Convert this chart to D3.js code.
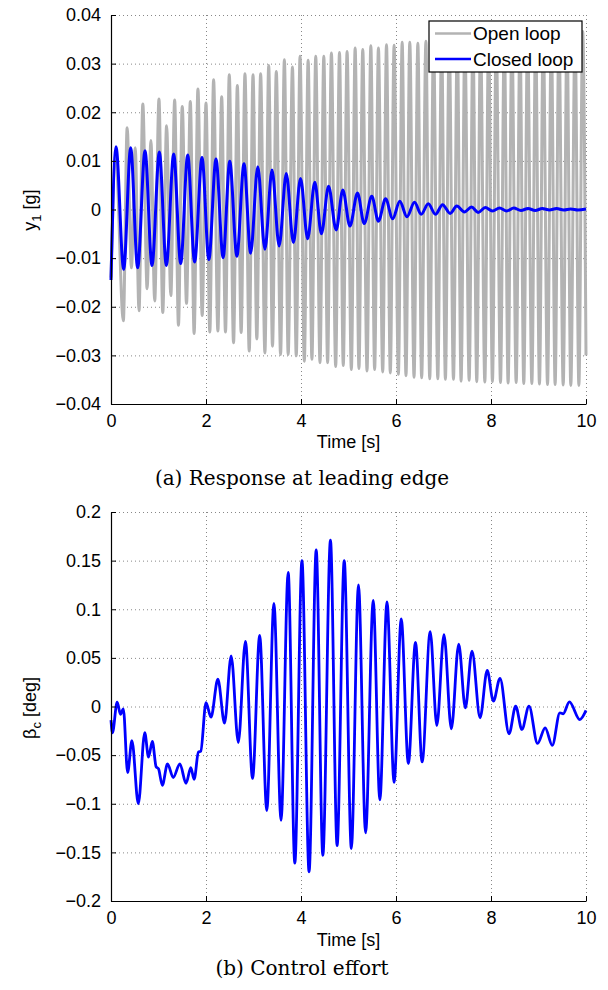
<!DOCTYPE html>
<head>
    <meta charset="utf-8">
    <script src="https://d3js.org/d3.v7.min.js"></script>
    <style>
        body { margin:0; background:#fff; }
        text { font-family: "Liberation Sans", Arial, Helvetica, sans-serif; }
        .caption { font-family: "DejaVu Serif", "Liberation Serif", serif; }
    </style>
</head>
<body>
<script>
    // ---- data ----
    var xTicks = [0, 2, 4, 6, 8, 10];
    var xTickLabels = ["0", "2", "4", "6", "8", "10"];

    var yTicksTop = [-0.04, -0.03, -0.02, -0.01, 0, 0.01, 0.02, 0.03, 0.04];
    var yTickLabelsTop = ["\u22120.04", "\u22120.03", "\u22120.02", "\u22120.01", "0", "0.01", "0.02", "0.03", "0.04"];

    var yTicksBot = [-0.2, -0.15, -0.1, -0.05, 0, 0.05, 0.1, 0.15, 0.2];
    var yTickLabelsBot = ["\u22120.2", "\u22120.15", "\u22120.1", "\u22120.05", "0", "0.05", "0.1", "0.15", "0.2"];

    // open loop y1 [g]: start, then alternating troughs / peaks
    var openLoop = [[0, -0.014], [0.10, 0.011],
        [0.26, -0.0229], [0.34, 0.0168], [0.43, -0.0120], [0.51, 0.0127], [0.59, -0.0208], [0.67, 0.0217],
        [0.76, -0.0163], [0.84, 0.0142], [0.92, -0.0188], [1.01, 0.0227], [1.09, -0.0212], [1.17, 0.0172],
        [1.26, -0.0177], [1.34, 0.0225], [1.42, -0.0238], [1.50, 0.0212], [1.59, -0.0193], [1.67, 0.0222],
        [1.75, -0.0255], [1.83, 0.0248], [1.92, -0.0218], [2.00, 0.0219], [2.08, -0.0252], [2.16, 0.0267],
        [2.25, -0.0250], [2.33, 0.0232], [2.41, -0.0252], [2.49, 0.0277], [2.58, -0.0274], [2.66, 0.0255],
        [2.74, -0.0253], [2.82, 0.0279], [2.91, -0.0291], [2.99, 0.0277], [3.07, -0.0266], [3.15, 0.0279],
        [3.24, -0.0295], [3.32, 0.0296], [3.40, -0.0281], [3.48, 0.0284], [3.57, -0.0298], [3.65, 0.0308],
        [3.73, -0.0298], [3.82, 0.0293], [3.90, -0.0301], [3.98, 0.0315], [4.07, -0.0312], [4.15, 0.0307],
        [4.23, -0.0308], [4.31, 0.0315], [4.40, -0.0315], [4.48, 0.0315], [4.56, -0.0315], [4.64, 0.0322],
        [4.73, -0.0323], [4.81, 0.0323], [4.89, -0.0321], [4.97, 0.0325], [5.06, -0.0329], [5.14, 0.0332],
        [5.22, -0.0327], [5.30, 0.0329], [5.39, -0.0332], [5.47, 0.0337], [5.55, -0.0329], [5.63, 0.0332],
        [5.72, -0.0334], [5.80, 0.0339], [5.88, -0.0336], [5.96, 0.0338], [6.05, -0.0339], [6.13, 0.0344],
        [6.21, -0.0342], [6.29, 0.0344], [6.38, -0.0345], [6.46, 0.0342], [6.54, -0.0346], [6.63, 0.0346],
        [6.71, -0.0348], [6.79, 0.0347], [6.88, -0.0348], [6.96, 0.0349], [7.04, -0.0349], [7.12, 0.0348],
        [7.21, -0.0349], [7.29, 0.0351], [7.37, -0.0353], [7.45, 0.0352], [7.54, -0.0351], [7.62, 0.0351],
        [7.70, -0.0354], [7.78, 0.0354], [7.87, -0.0355], [7.95, 0.0355], [8.03, -0.0354], [8.11, 0.0355],
        [8.20, -0.0356], [8.28, 0.0357], [8.36, -0.0357], [8.44, 0.0358], [8.53, -0.0356], [8.61, 0.0357],
        [8.69, -0.0358], [8.77, 0.0360], [8.86, -0.0358], [8.94, 0.0361], [9.02, -0.0359], [9.10, 0.0361],
        [9.19, -0.0360], [9.27, 0.0363], [9.35, -0.0360], [9.43, 0.0364], [9.52, -0.0361], [9.60, 0.0364],
        [9.68, -0.0362], [9.77, 0.0365], [9.85, -0.0362], [9.93, 0.0366], [10.0, -0.030]];

    // closed loop y1 [g]
    var closedLoop = [[0, -0.0145], [0.105, 0.0129], [0.267, -0.0123], [0.414, 0.0127], [0.561, -0.0120],
        [0.716, 0.0121], [0.863, -0.0115], [1.018, 0.0118], [1.165, -0.0115], [1.32, 0.0114], [1.467, -0.0111],
        [1.615, 0.0112], [1.76, -0.0108], [1.916, 0.0107], [2.06, -0.0103], [2.21, 0.0104], [2.36, -0.0099],
        [2.50, 0.0099], [2.65, -0.0096], [2.80, 0.0094], [2.94, -0.0090], [3.09, 0.0088], [3.24, -0.0082],
        [3.39, 0.0081], [3.54, -0.0075], [3.69, 0.0074], [3.84, -0.0068], [3.99, 0.0064], [4.14, -0.0060],
        [4.29, 0.0056], [4.43, -0.0050], [4.58, 0.0048], [4.74, -0.0042], [4.88, 0.0040], [5.03, -0.0034],
        [5.19, 0.0034], [5.33, -0.0029], [5.49, 0.0027], [5.63, -0.0024], [5.78, 0.0022], [5.93, -0.0019],
        [6.08, 0.0017], [6.23, -0.0015], [6.39, 0.0015], [6.53, -0.0010], [6.68, 0.0012], [6.83, -0.0010],
        [6.98, 0.0010], [7.14, -0.0008], [7.28, 0.0007], [7.44, -0.0005], [7.59, 0.0005], [7.73, -0.0006],
        [7.88, 0.0004], [8.03, -0.0003], [8.18, 0.0003], [8.33, -0.0003], [8.48, 0.0003], [8.63, -0.0002],
        [8.78, 0.0002], [8.93, -0.0002], [9.08, 0.0002], [9.23, -0.0001], [9.38, 0.0002], [9.53, -0.0001],
        [9.68, 0.0001], [9.83, -0.0001], [10.0, 0.0001]];

    // control effort beta_c [deg]
    var control = [[0, -0.014], [0.03, -0.027], [0.13, 0.0045], [0.20, -0.008], [0.26, -0.0024], [0.35, -0.068],
        [0.44, -0.035], [0.575, -0.100], [0.71, -0.027], [0.79, -0.052], [0.87, -0.036], [0.95, -0.062],
        [1.00, -0.064], [1.08, -0.081], [1.19, -0.059], [1.31, -0.073], [1.45, -0.059], [1.58, -0.079],
        [1.68, -0.063], [1.75, -0.075], [1.84, -0.047], [1.89, -0.046], [2.00, 0.004], [2.105, -0.011],
        [2.25, 0.028], [2.39, -0.017], [2.53, 0.052], [2.68, -0.037], [2.83, 0.067], [2.98, -0.074],
        [3.13, 0.073], [3.28, -0.107], [3.43, 0.106], [3.58, -0.117], [3.73, 0.138], [3.87, -0.161],
        [4.02, 0.150], [4.17, -0.170], [4.32, 0.161], [4.46, -0.153], [4.62, 0.171], [4.76, -0.143],
        [4.91, 0.150], [5.06, -0.146], [5.21, 0.125], [5.36, -0.130], [5.52, 0.109], [5.66, -0.096],
        [5.81, 0.1075], [5.96, -0.078], [6.11, 0.090], [6.26, -0.0586], [6.41, 0.066], [6.55, -0.057],
        [6.72, 0.077], [6.86, -0.0195], [7.01, 0.074], [7.165, -0.023], [7.32, 0.064], [7.46, -0.0014],
        [7.60, 0.057], [7.77, -0.0116], [7.92, 0.037], [8.05, 0.0055], [8.19, 0.029], [8.38, -0.028],
        [8.52, 0.0003], [8.65, -0.0236], [8.80, 0.0003], [8.98, -0.038], [9.14, -0.022], [9.29, -0.040],
        [9.45, -0.0065], [9.52, -0.0075], [9.65, 0.0048], [9.87, -0.0134], [10.0, -0.004]];

    var legendNames = ["Open loop", "Closed loop"];

    // ---- drawing ----
    var svg = d3.select("body").append("svg")
        .attr("width", 608)
        .attr("height", 990);

    var x = d3.scaleLinear().domain([0, 10]).range([111, 586]);
    var yTop = d3.scaleLinear().domain([-0.04, 0.04]).range([404, 15]);
    var yBot = d3.scaleLinear().domain([-0.2, 0.2]).range([901, 512]);

    function panel(y, yTicks) {
        var g = svg.append("g");
        // dotted grid
        g.selectAll("line.gx").data(xTicks.slice(1)).enter().append("line")
            .attr("x1", function(d) { return x(d) + 0.5; })
            .attr("x2", function(d) { return x(d) + 0.5; })
            .attr("y1", y.range()[0]).attr("y2", y.range()[1])
            .attr("stroke", "#888").attr("stroke-dasharray", "1,3");
        g.selectAll("line.gy").data(yTicks.slice(1)).enter().append("line")
            .attr("y1", function(d) { return y(d) + 0.5; })
            .attr("y2", function(d) { return y(d) + 0.5; })
            .attr("x1", x.range()[0]).attr("x2", x.range()[1])
            .attr("stroke", "#888").attr("stroke-dasharray", "1,3");
        return g;
    }

    function axes(y, yTicks, yLabels) {
        var ax = svg.append("g")
            .attr("transform", "translate(0," + y.range()[0] + ")")
            .call(d3.axisBottom(x).tickValues(xTicks)
                .tickFormat(function(d, i) { return xTickLabels[i]; })
                .tickSizeInner(-5).tickSizeOuter(0).tickPadding(10));
        var ay = svg.append("g")
            .attr("transform", "translate(" + x.range()[0] + ",0)")
            .call(d3.axisLeft(y).tickValues(yTicks)
                .tickFormat(function(d, i) { return yLabels[i]; })
                .tickSizeInner(-5).tickSizeOuter(0).tickPadding(10));
        [ax, ay].forEach(function(a) {
            a.selectAll("text").attr("font-size", 18).attr("fill", "#000")
                .style("font-family", "'Liberation Sans', Arial, sans-serif");
            a.select(".domain").attr("stroke", "#000").attr("stroke-width", 1.2);
            a.selectAll(".tick line").attr("stroke", "#000");
        });
    }

    var line = function(y) {
        return d3.line()
            .x(function(d) { return x(d[0]); })
            .y(function(d) { return y(d[1]); })
            .curve(d3.curveMonotoneX);
    };

    // top panel
    panel(yTop, yTicksTop);
    svg.append("path").attr("d", line(yTop)(openLoop))
        .attr("fill", "none").attr("stroke", "#b3b3b3").attr("stroke-width", 3);
    svg.append("path").attr("d", line(yTop)(closedLoop))
        .attr("fill", "none").attr("stroke", "#0000ff").attr("stroke-width", 3);
    axes(yTop, yTicksTop, yTickLabelsTop);

    // legend
    var lg = svg.append("g").attr("transform", "translate(429,21)");
    lg.append("rect").attr("width", 153).attr("height", 51)
        .attr("fill", "#fff").attr("stroke", "#000").attr("stroke-width", 1.2);
    var legColors = ["#b3b3b3", "#0000ff"];
    legendNames.forEach(function(n, i) {
        var yy = 12.5 + i * 25.5;
        lg.append("line").attr("x1", 6).attr("x2", 42).attr("y1", yy).attr("y2", yy)
            .attr("stroke", legColors[i]).attr("stroke-width", 2.5);
        lg.append("text").attr("x", 44).attr("y", yy + 6.5).attr("font-size", 19).text(n);
    });

    // labels top
    svg.append("text").attr("x", 348.5).attr("y", 448).attr("text-anchor", "middle")
        .attr("font-size", 18).text("Time [s]");
    var yl = svg.append("text").attr("transform", "translate(36,210) rotate(-90)")
        .attr("text-anchor", "middle").attr("font-size", 18);
    yl.append("tspan").text("y");
    yl.append("tspan").attr("font-size", 13).attr("dy", 5).text("1");
    yl.append("tspan").attr("dy", -5).text(" [g]");
    svg.append("text").attr("class", "caption").attr("x", 302).attr("y", 485)
        .attr("text-anchor", "middle").attr("font-size", 20).text("(a) Response at leading edge");

    // bottom panel
    panel(yBot, yTicksBot);
    svg.append("path").attr("d", line(yBot)(control))
        .attr("fill", "none").attr("stroke", "#0000ff").attr("stroke-width", 2.8);
    axes(yBot, yTicksBot, yTickLabelsBot);

    svg.append("text").attr("x", 348.5).attr("y", 946).attr("text-anchor", "middle")
        .attr("font-size", 18).text("Time [s]");
    var bl = svg.append("text").attr("transform", "translate(36,708) rotate(-90)")
        .attr("text-anchor", "middle").attr("font-size", 18);
    bl.append("tspan").text("\u03b2");
    bl.append("tspan").attr("font-size", 13).attr("dy", 5).text("c");
    bl.append("tspan").attr("dy", -5).text(" [deg]");
    svg.append("text").attr("class", "caption").attr("x", 302).attr("y", 975)
        .attr("text-anchor", "middle").attr("font-size", 20).text("(b) Control effort");
</script>
</body>
